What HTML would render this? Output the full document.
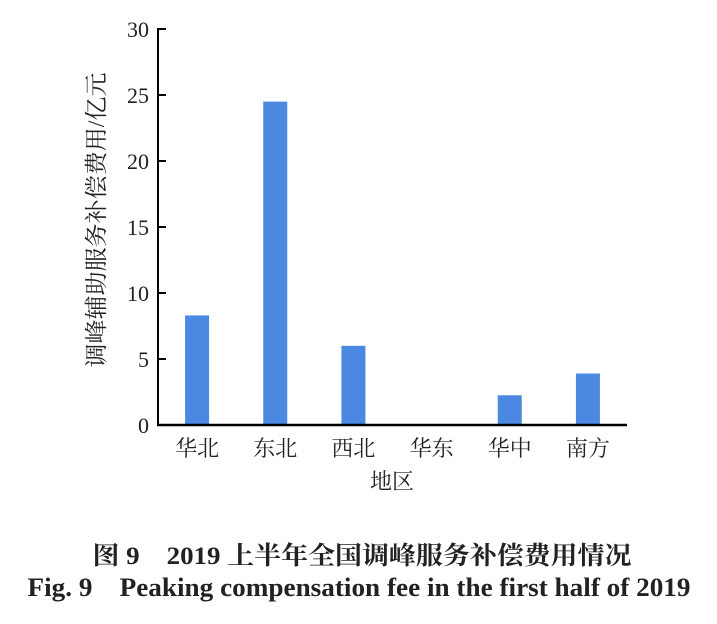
<!DOCTYPE html>
<html><head><meta charset="utf-8"><style>
body{margin:0;background:#fff;width:717px;height:619px;overflow:hidden}
svg text{font-family:"Liberation Serif","Noto Serif CJK SC",serif;fill:#222}
</style></head><body>
<svg width="717" height="619">
<g id="plot"></g>
<text x="104" y="220" font-size="23" text-anchor="middle" transform="rotate(-90 104 220)" textLength="295" lengthAdjust="spacingAndGlyphs">调峰辅助服务补偿费用/亿元</text>
<text x="392" y="489" font-size="22" text-anchor="middle">地区</text>
<text x="362" y="564" font-size="25" font-weight="bold" text-anchor="middle" textLength="539" lengthAdjust="spacingAndGlyphs" fill="#111">图 9　2019 上半年全国调峰服务补偿费用情况</text>
<text x="359" y="596" font-size="26" font-weight="bold" text-anchor="middle" textLength="663" lengthAdjust="spacingAndGlyphs" fill="#111">Fig. 9　Peaking compensation fee in the first half of 2019</text>
</svg>
<script>
const categories=["华北","东北","西北","华东","华中","南方"];
const values=[8.3,24.5,6.0,0,2.25,3.9];
const ticks=[0,5,10,15,20,25,30];
const x0=158,x1=627,y0=425,yTop=29,ymax=30;
const ys=v=>y0-(v/ymax)*(y0-yTop);
const slot=(x1-x0)/categories.length;
const xs=i=>x0+slot*(i+0.5);
const g=document.getElementById('plot');
const NS='http://www.w3.org/2000/svg';
function mk(t,a){const e=document.createElementNS(NS,t);for(const k in a)e.setAttribute(k,a[k]);g.appendChild(e);return e;}
values.forEach((v,i)=>{
 const r=mk('rect',{x:xs(i)-12,y:ys(v),width:24,height:y0-ys(v),fill:'#4a88e2'});
 
 
 const t=mk('text',{x:xs(i),y:y0+31,'font-size':22,'text-anchor':'middle'});t.textContent=categories[i];
 
 
});
ticks.forEach(v=>{
 const l=mk('line',{x1:x0,x2:x0+8,y1:ys(v),y2:ys(v),stroke:'#000','stroke-width':2});
 
 
 const t=mk('text',{x:x0-9,y:ys(v)+8,'font-size':22,'text-anchor':'end'});t.textContent=v;
 
 
});
const ya=mk('line',{x1:x0,x2:x0,y1:yTop-1,y2:y0+1,stroke:'#000','stroke-width':2});


const xa=mk('line',{x1:x0-1,x2:x1,y1:y0,y2:y0,stroke:'#000','stroke-width':2.5});


</script>
</body></html>
